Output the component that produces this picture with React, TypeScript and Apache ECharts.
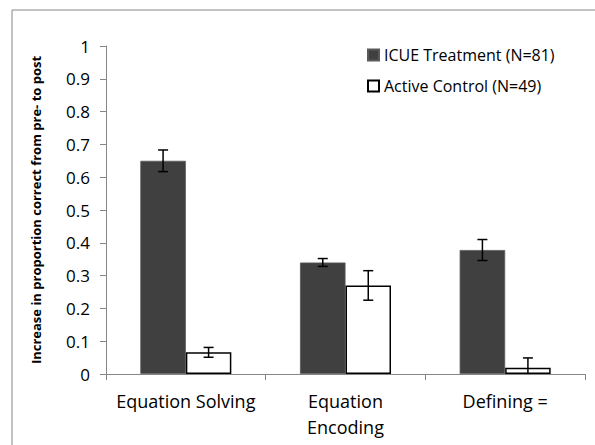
import React, { useEffect, useRef } from "react";
import * as echarts from "echarts";

const categories = ["Equation Solving", "Equation\nEncoding", "Defining ="];
const seriesNames = ["ICUE Treatment (N=81)", "Active Control (N=49)"];
const icueValues = [0.65, 0.34, 0.378];
const icueErrors = [0.033, 0.012, 0.032];
const controlValues = [0.066, 0.27, 0.019];
const controlErrors = [0.015, 0.045, 0.03];
const yTicks = { min: 0, max: 1, interval: 0.1 };

const FONT = "Open Sans";

export default function App() {
  const ref = useRef<HTMLDivElement>(null);
  useEffect(() => {
    if (!ref.current) return;
    const chart = echarts.init(ref.current, null, { renderer: "svg" });
    const gapFrac = 0.43;
    const makeErr = (values: number[], errs: number[], side: number) => ({
      type: "custom",
      silent: true,
      z: 10,
      clip: true,
      data: values.map((v, i) => [i, Math.max(0, v - errs[i]), v + errs[i]]),
      renderItem: (params: any, api: any) => {
        const idx = api.value(0);
        const lo = api.coord([idx, api.value(1)]);
        const hi = api.coord([idx, api.value(2)]);
        const band = api.size([1, 0])[0];
        const bw = (band * (1 - gapFrac)) / 2;
        const x = lo[0] + side * bw / 2;
        const cap = 5;
        const style = { stroke: "#000", lineWidth: 1.5 };
        return {
          type: "group",
          children: [
            { type: "line", shape: { x1: x, y1: lo[1], x2: x, y2: hi[1] }, style },
            { type: "line", shape: { x1: x - cap, y1: hi[1], x2: x + cap, y2: hi[1] }, style },
            { type: "line", shape: { x1: x - cap, y1: lo[1], x2: x + cap, y2: lo[1] }, style },
          ],
        };
      },
    });
    chart.setOption({
      animation: false,
      backgroundColor: "#fff",
      graphic: [
        {
          type: "rect",
          shape: { x: 12, y: 10, width: 600, height: 460 },
          style: { fill: "none", stroke: "#868686", lineWidth: 1 },
          z: -1,
        },
      ],
      grid: { left: 106, right: 10, top: 46, bottom: 71, containLabel: false },
      legend: {
        orient: "vertical",
        left: 362,
        top: 42,
        itemWidth: 11,
        itemHeight: 11,
        itemGap: 15,
        icon: "rect",
        textStyle: { fontFamily: FONT, fontSize: 16, color: "#000", padding: [0, 0, 0, 0] },
        data: seriesNames,
      },
      xAxis: {
        type: "category",
        data: categories,
        boundaryGap: true,
        axisLine: { lineStyle: { color: "#868686", width: 1 } },
        axisTick: { show: true, interval: 0, length: 6, lineStyle: { color: "#868686" } },
        axisLabel: {
          fontFamily: FONT,
          fontSize: 18,
          color: "#000",
          margin: 14,
          lineHeight: 26,
          interval: 0,
        },
      },
      yAxis: {
        type: "value",
        min: yTicks.min,
        max: yTicks.max,
        interval: yTicks.interval,
        name: "Increase in proportion correct from pre- to post",
        nameLocation: "middle",
        nameGap: 64,
        nameTextStyle: { fontFamily: FONT, fontSize: 13, fontWeight: "bold", color: "#000" },
        splitLine: { show: false },
        axisLine: { show: true, lineStyle: { color: "#868686", width: 1 } },
        axisTick: { show: true, length: 6, lineStyle: { color: "#868686" } },
        axisLabel: { fontFamily: FONT, fontSize: 17, color: "#000", margin: 16 },
      },
      series: [
        {
          name: seriesNames[0],
          type: "bar",
          data: icueValues,
          barGap: "0%",
          barCategoryGap: "43%",
          itemStyle: { color: "#404040", borderColor: "#595959", borderWidth: 0.8 },
        },
        {
          name: seriesNames[1],
          type: "bar",
          data: controlValues,
          itemStyle: { color: "#fff", borderColor: "#000", borderWidth: 1.5 },
        },
        makeErr(icueValues, icueErrors, -1),
        makeErr(controlValues, controlErrors, 1),
      ],
    });
    return () => chart.dispose();
  }, []);
  return <div ref={ref} style={{ width: 595, height: 445, position: "absolute", left: 0, top: 0 }} />;
}
